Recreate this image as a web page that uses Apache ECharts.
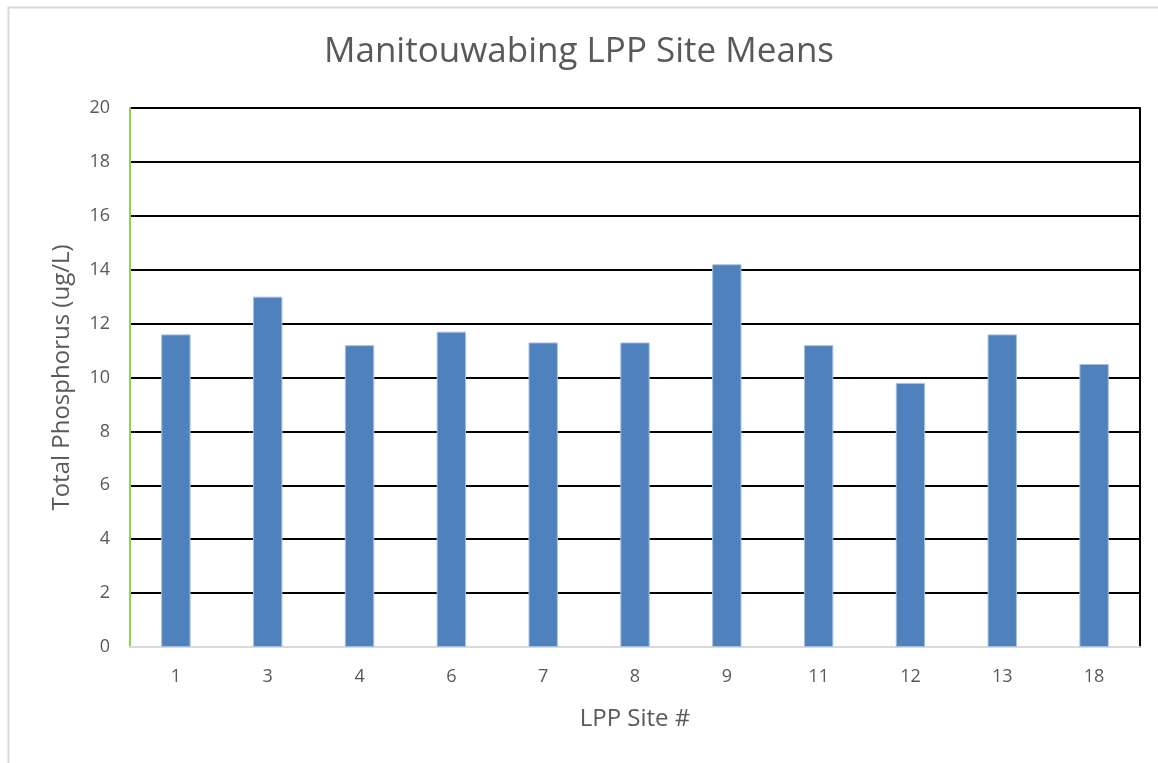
<!DOCTYPE html>
<html>
<head>
<meta charset="utf-8">
<script src="https://cdn.jsdelivr.net/npm/echarts@6/dist/echarts.min.js"></script>
<style>
  html, body { margin: 0; padding: 0; background: #fff; }
  #chart { width: 1158px; height: 763px; }
</style>
</head>
<body>
<div id="chart"></div>
<script>
// site numbers along the x axis
var sites = ['1', '3', '4', '6', '7', '8', '9', '11', '12', '13', '18'];
// mean total phosphorus per site (ug/L)
var tpMeans = [11.6, 13.0, 11.2, 11.7, 11.3, 11.3, 14.2, 11.2, 9.8, 11.6, 10.5];

var font = '"Open Sans", "Liberation Sans", sans-serif';
var textColor = '#595959';

var myChart = echarts.init(document.getElementById('chart'));

var option = {
  backgroundColor: '#fff',
  animation: false,
  title: {
    text: 'Manitouwabing LPP Site Means',
    left: 'center',
    top: 30,
    textStyle: { fontFamily: font, fontSize: 35, fontWeight: 'normal', color: textColor }
  },
  // light frame around the chart
  graphic: [{
    type: 'rect',
    shape: { x: 8.5, y: 7.5, width: 1170, height: 780 },
    style: { fill: 'none', stroke: '#d9d9d9', lineWidth: 2 }
  }],
  grid: { left: 130, right: 18, top: 108, bottom: 116 },
  xAxis: {
    type: 'category',
    data: sites,
    name: 'LPP Site #',
    nameLocation: 'middle',
    nameGap: 60,
    nameTextStyle: { fontFamily: font, fontSize: 24, color: textColor },
    axisLine: { lineStyle: { color: '#d9d9d9', width: 2 } },
    axisTick: { show: false },
    axisLabel: { fontFamily: font, fontSize: 18, color: textColor, margin: 21 }
  },
  yAxis: [{
    type: 'value',
    min: 0,
    max: 20,
    interval: 2,
    name: 'Total Phosphorus (ug/L)',
    nameLocation: 'middle',
    nameGap: 56,
    nameTextStyle: { fontFamily: font, fontSize: 24, color: textColor },
    axisLine: { show: true, lineStyle: { color: '#92d050', width: 2 } },
    axisTick: { show: false },
    axisLabel: { fontFamily: font, fontSize: 18, color: textColor, margin: 20 },
    splitLine: { lineStyle: { color: '#000', width: 2 } }
  }, {
    // right edge line of the plot
    type: 'value',
    min: 0,
    max: 20,
    interval: 2,
    position: 'right',
    axisLine: { show: true, lineStyle: { color: '#000', width: 2 } },
    axisTick: { show: false },
    axisLabel: { show: false },
    splitLine: { show: false }
  }],
  series: [{
    type: 'bar',
    data: tpMeans,
    barWidth: '32%',
    itemStyle: { color: '#4f81bd', borderColor: '#a7c0e0', borderWidth: 1 }
  }]
};

myChart.setOption(option);
</script>
</body>
</html>
